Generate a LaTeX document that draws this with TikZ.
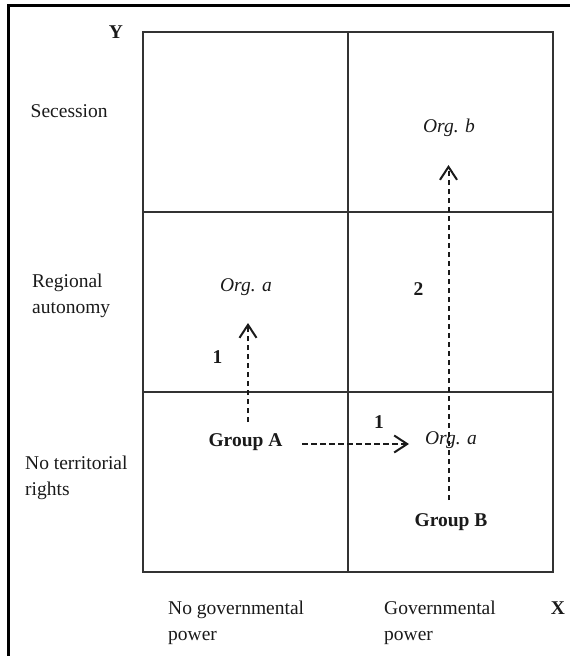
\documentclass[tikz,border=0pt]{standalone}
\usepackage{fontspec}
\setmainfont{Liberation Serif}
\usetikzlibrary{arrows.meta}
\definecolor{gridc}{HTML}{333333}
\definecolor{txt}{HTML}{1A1A1A}
\tikzset{
  lbl/.style={inner sep=0pt, text=txt, font=\fontsize{19.5}{26}\selectfont},
  lbll/.style={lbl, align=left, anchor=west},
  bl/.style={lbl, font=\fontsize{19.5}{26}\selectfont\bfseries},
  it/.style={lbl, font=\fontsize{19.5}{26}\selectfont\itshape},
  gridline/.style={draw=gridc, line width=1.3pt},
  framel/.style={draw=black, line width=2.5pt},
  dasharrow/.style={draw=txt, line width=2pt, dash pattern=on 5.5pt off 3.5pt,
    -{Straight Barb[length=13pt,width=17pt,line width=2pt]}}
}
\begin{document}
\begin{tikzpicture}[x=1pt,y=-1pt]
\useasboundingbox (0,0) rectangle (570,656);
% frame
\draw[framel] (570,5.5) -- (8.5,5.5) -- (8.5,656);
% grid
\draw[gridline] (143,32) rectangle (553,572);
\draw[gridline] (348,32) -- (348,572);
\draw[gridline] (143,212) -- (553,212);
\draw[gridline] (143,392) -- (553,392);
% axis labels
\node[bl] (Y) at (116,32.5) {Y};
\node[bl] (X) at (558,608) {X};
\node[lbll] (sec) at (30.5,111.5) {Secession};
\node[lbll] (reg) at (32,295.5) {Regional\\autonomy};
\node[lbll] (noter) at (25,477.5) {No territorial\\rights};
\node[lbll] (nogov) at (168,622.5) {No governmental\\power};
\node[lbll] (gov) at (384,622.5) {Governmental\\power};
% cell texts
\node[it] (orgb) at (449,128) {Org. b};
\node[it] (orga1) at (246,287.5) {Org. a};
\node[it] (orga2) at (451,440.5) {Org. a};
\node[bl] (grpA) at (245.5,442) {Group A};
\node[bl] (grpB) at (451,522.5) {Group B};
\node[bl] (n1a) at (217.5,357.5) {1};
\node[bl] (n1b) at (379,422.5) {1};
\node[bl] (n2) at (418.5,289) {2};
% arrows
\coordinate (a1s) at (248,422);
\coordinate (a1e) at (248,323);
\coordinate (a2s) at (302,444);
\coordinate (a2e) at (409,444);
\coordinate (a3s) at (448.5,500);
\coordinate (a3e) at (448.5,165);
\draw[dasharrow] (a1s) -- (a1e);
\draw[dasharrow] (a2s) -- (a2e);
\draw[dasharrow] (a3s) -- (a3e);
\end{tikzpicture}
\end{document}
